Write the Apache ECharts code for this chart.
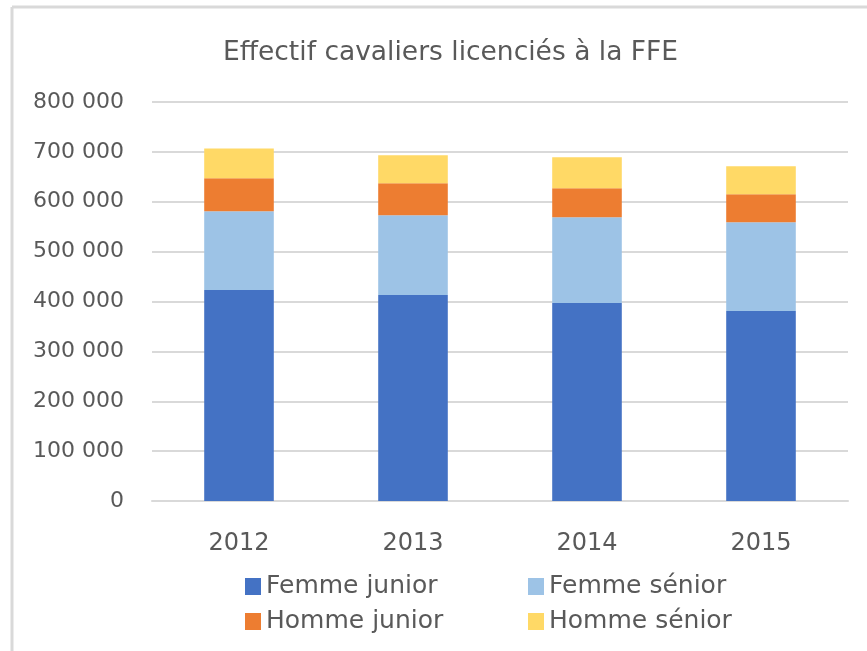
<!DOCTYPE html>
<html>
<head>
<meta charset="utf-8">
<script src="https://cdn.jsdelivr.net/npm/echarts@6/dist/echarts.min.js"></script>
<style>
  html, body { margin: 0; padding: 0; background: #fff; overflow: hidden; }
  #chart { width: 867px; height: 651px; }
</style>
</head>
<body>
<div id="chart"></div>
<script>
// données
const years = ['2012', '2013', '2014', '2015']
const femmeJunior = [423000, 413000, 397000, 381000]
const femmeSenior = [158000, 160000, 172000, 178000]
const hommeJunior = [66000, 64000, 58000, 56000]
const hommeSenior = [60000, 56000, 62000, 56000]
const seriesNames = ['Femme junior', 'Femme sénior', 'Homme junior', 'Homme sénior']
const colors = ['#4472C4', '#9DC3E6', '#ED7D31', '#FFD966']

const txt = '#595959'
const font = 'DejaVu Sans'

const chart = echarts.init(document.getElementById('chart'))

const mkSeries = (name, data) => ({
  name: name,
  type: 'bar',
  stack: 'total',
  barWidth: '40%',
  data: data
})

chart.setOption({
  animation: false,
  color: colors,
  graphic: [
    // cadre gris (haut et gauche seulement visibles)
    { type: 'line', shape: { x1: 12, y1: 7, x2: 867, y2: 7 },
      style: { stroke: '#D9D9D9', lineWidth: 3 } },
    { type: 'line', shape: { x1: 12, y1: 7, x2: 12, y2: 651 },
      style: { stroke: '#D9D9D9', lineWidth: 3 } }
  ],
  title: {
    text: 'Effectif cavaliers licenciés à la FFE',
    left: 218,
    top: 35,
    textStyle: { color: txt, fontFamily: font, fontSize: 26.5, fontWeight: 'normal' }
  },
  legend: {
    data: seriesNames,
    left: 240,
    top: 569,
    width: 580,
    icon: 'rect',
    itemWidth: 16,
    itemHeight: 17,
    itemGap: 10,
    itemTextGap: 10,
    textStyle: { color: txt, fontFamily: font, fontSize: 25, width: 252, lineHeight: 23 }
  },
  grid: { left: 152, right: 19, top: 102, bottom: 150 },
  xAxis: {
    type: 'category',
    data: years,
    axisLine: { lineStyle: { color: '#D9D9D9', width: 2 } },
    axisTick: { show: false },
    axisLabel: { color: txt, fontFamily: font, fontSize: 24, margin: 31 }
  },
  yAxis: {
    type: 'value',
    min: 0,
    max: 800000,
    interval: 100000,
    axisLine: { show: false },
    axisTick: { show: false },
    splitLine: { lineStyle: { color: '#D9D9D9', width: 2 } },
    axisLabel: {
      color: txt, fontFamily: font, fontSize: 22, margin: 28,
      formatter: v => String(v).replace(/\B(?=(\d{3})+(?!\d))/g, ' ')
    }
  },
  series: [
    mkSeries(seriesNames[0], femmeJunior),
    mkSeries(seriesNames[1], femmeSenior),
    mkSeries(seriesNames[2], hommeJunior),
    mkSeries(seriesNames[3], hommeSenior)
  ]
})
</script>
</body>
</html>
